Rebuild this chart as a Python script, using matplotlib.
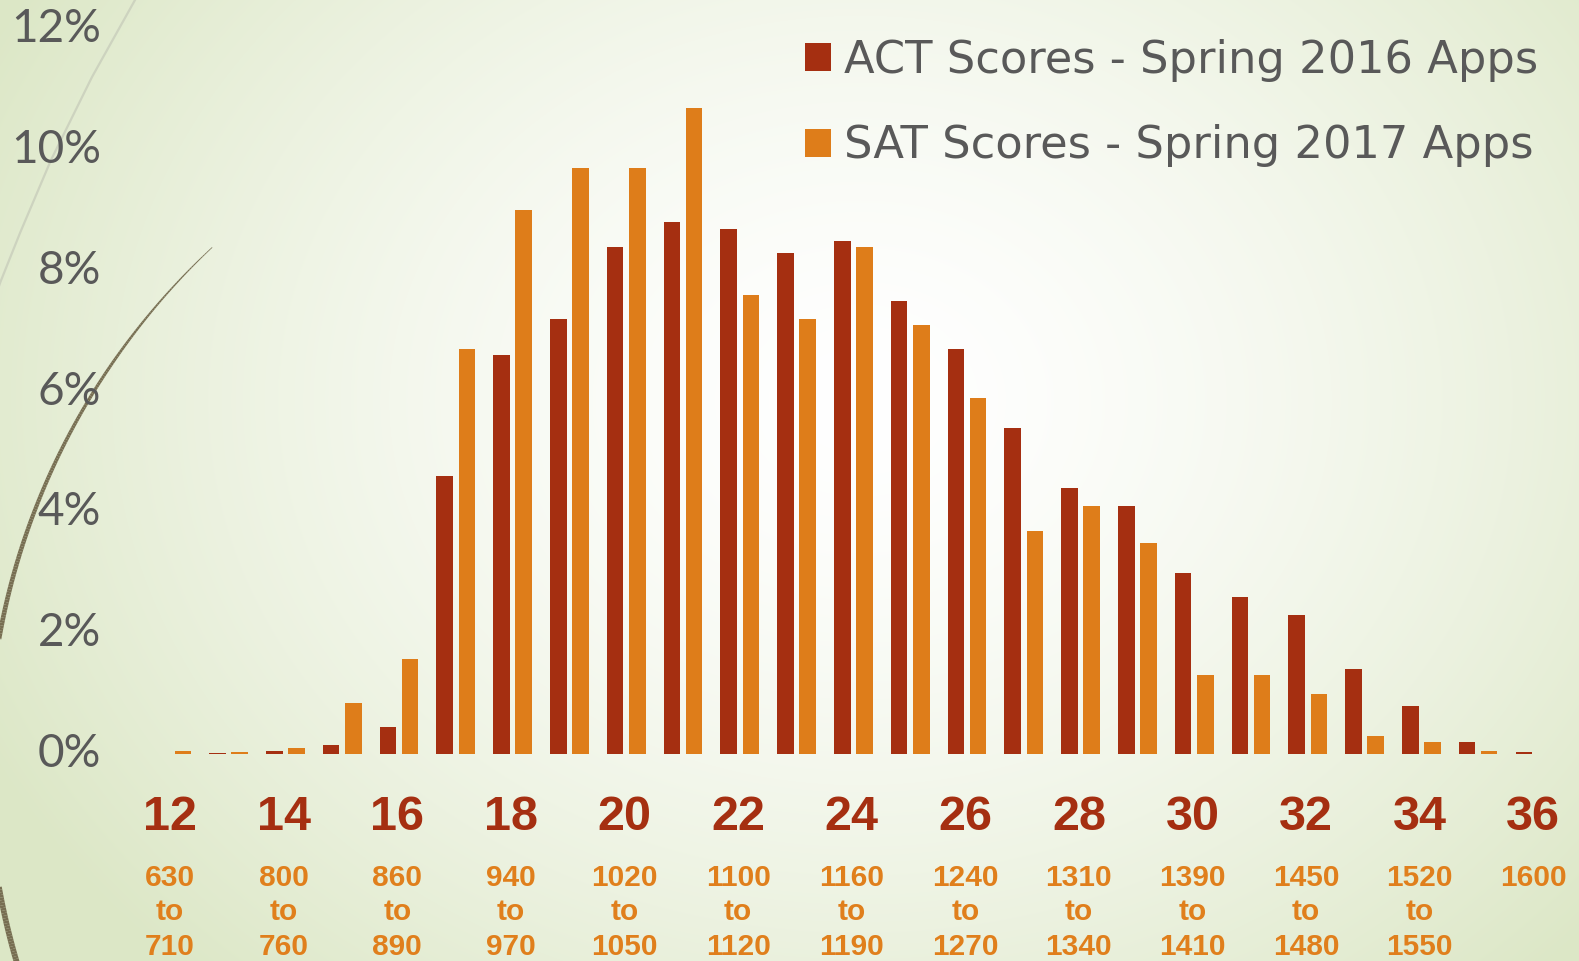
import numpy as np
import matplotlib.pyplot as plt
from matplotlib.collections import LineCollection

# ACT score categories 12..36, share of applicants (%)
act_scores = list(range(12, 37))
act_pct = [0.0, 0.02, 0.05, 0.15, 0.45, 4.6, 6.6, 7.2, 8.4, 8.8, 8.7, 8.3, 8.5,
           7.5, 6.7, 5.4, 4.4, 4.1, 3.0, 2.6, 2.3, 1.4, 0.8, 0.2, 0.03]
sat_pct = [0.05, 0.04, 0.1, 0.85, 1.57, 6.7, 9.0, 9.7, 9.7, 10.7, 7.6, 7.2, 8.4,
           7.1, 5.9, 3.7, 4.1, 3.5, 1.3, 1.3, 1.0, 0.3, 0.2, 0.05, 0.0]
act_labels = ['12', '14', '16', '18', '20', '22', '24', '26', '28', '30', '32', '34', '36']
sat_labels = ['630\nto\n710', '800\nto\n760', '860\nto\n890', '940\nto\n970',
              '1020\nto\n1050', '1100\nto\n1120', '1160\nto\n1190', '1240\nto\n1270',
              '1310\nto\n1340', '1390\nto\n1410', '1450\nto\n1480', '1520\nto\n1550', '1600']
yticks = [0, 2, 4, 6, 8, 10, 12]

ACT_COL = '#A52F11'
SAT_COL = '#DE7D1A'
GREY = '#595959'

W, H = 1579, 961
fig = plt.figure(figsize=(W / 100, H / 100), dpi=100)

# slide background: radial white -> pale green
bg = fig.add_axes([0, 0, 1, 1], zorder=0)
yy, xx = np.mgrid[0:H, 0:W]
r = np.sqrt(((xx - 860) / 980.0) ** 2 + ((yy - 400) / 800.0) ** 2)
t = np.clip(r, 0, 1) ** 1.5
c0 = np.array([1.0, 1.0, 1.0])
c1 = np.array([220, 231, 198]) / 255.0
bg.imshow(c0 + (c1 - c0) * t[..., None], extent=[0, W, H, 0], aspect='auto')

# decorative wisps on the left
ang = np.radians(np.linspace(-133, -197, 300))
px = 693 + 705 * np.cos(ang)
py = 763 + 705 * np.sin(ang)
pts = np.column_stack([px, py]).reshape(-1, 1, 2)
segs = np.concatenate([pts[:-1], pts[1:]], axis=1)
lw = np.interp(np.arange(len(segs)), [0, 60, 140, len(segs)], [0.5, 2.2, 3.2, 4.2])
bg.add_collection(LineCollection(segs, linewidths=lw, colors='#776E52'))
wy = np.array([0, 77, 160, 233, 283, 320])
wx = np.array([135, 92, 51, 20, 0, -12])
ys = np.linspace(0, 320, 100)
bg.plot(np.interp(ys, wy, wx), ys, color='#CDD3BF', lw=1.6)
bg.set_xlim(0, W)
bg.set_ylim(H, 0)
bg.axis('off')

# chart
ax = fig.add_axes([0, 0, 1, 1], zorder=1)
ax.patch.set_alpha(0)
x = np.arange(len(act_scores))
b1 = ax.bar(x - 0.195, act_pct, 0.29, color=ACT_COL, label='ACT Scores - Spring 2016 Apps')
b2 = ax.bar(x + 0.195, sat_pct, 0.29, color=SAT_COL, label='SAT Scores - Spring 2017 Apps')
ax.set_xlim(-3.025, 24.775)
ax.set_ylim(-3.427, 12.483)
ax.axis('off')

for v in yticks:
    ax.text(0.064, v, f'{v}%', transform=ax.get_yaxis_transform(), ha='right', va='center',
            fontsize=33, color=GREY, family='Lato')

lab_pos = x[::2]
for p, a, s in zip(lab_pos, act_labels, sat_labels):
    ax.text(p - 0.03, 0.1363, a, transform=ax.get_xaxis_transform(), ha='center', va='baseline',
            fontsize=35, fontweight='bold', color=ACT_COL, family='Liberation Sans')
    ax.text(p - 0.03, 1 - 864 / H, s, transform=ax.get_xaxis_transform(), ha='center', va='top',
            fontsize=21.5, fontweight='bold', color='#E07F1C', family='Liberation Sans',
            linespacing=1.29, multialignment='center')

fig.legend(handles=[b1, b2], loc='upper left', bbox_to_anchor=(805 / W, 1 - 39 / H),
           frameon=False, labelcolor=GREY, handlelength=0.58, handleheight=0.58,
           handletextpad=0.3, labelspacing=0.95, borderpad=0, borderaxespad=0,
           prop={'family': 'DejaVu Sans', 'size': 32.2})

fig.savefig('out.png', dpi=100)
